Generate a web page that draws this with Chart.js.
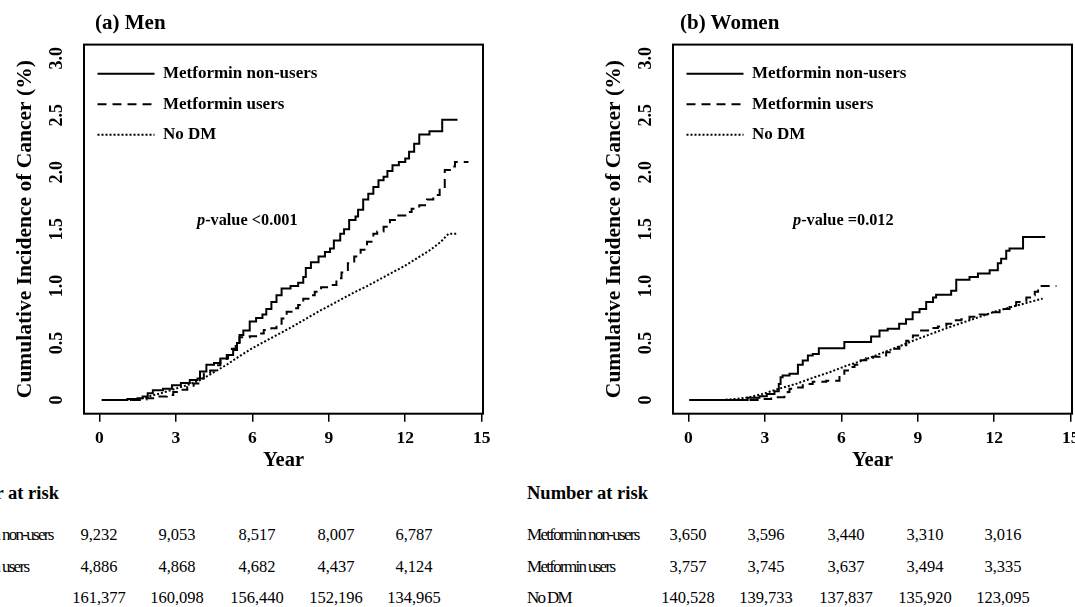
<!DOCTYPE html>
<html>
<head>
<meta charset="utf-8">
<script src="https://cdn.jsdelivr.net/npm/chart.js@4.4.0/dist/chart.umd.min.js"></script>
<style>
    html, body { margin: 0; padding: 0; background: #fff; overflow: hidden; width: 1075px; height: 607px; }
    body { position: relative; font-family: "Liberation Serif", "Times New Roman", serif; color: #000; }
    .panel { position: absolute; top: 0; width: 520px; height: 480px; }
    .panel-title { position: absolute; top: 12px; font-size: 21px; line-height: 21px; font-weight: bold; white-space: nowrap; }
    .pvalue { position: absolute; top: 212px; font-size: 16.3px; line-height: 16px; font-weight: bold; white-space: nowrap; }
    .risk-head { position: absolute; top: 482px; font-size: 18.5px; line-height: 22px; font-weight: bold; white-space: nowrap; }
    .risk-label { position: absolute; font-size: 17px; line-height: 20px; letter-spacing: -1.7px; white-space: nowrap; }
    .risk-cell { position: absolute; width: 80px; margin-left: -40px; text-align: center; font-size: 16.5px; line-height: 20px; }
</style>
</head>
<body>
<div class="panel" style="left:0px"><canvas id="menChart" width="520" height="480"></canvas></div>
<div class="panel" style="left:589px"><canvas id="womenChart" width="520" height="480"></canvas></div>

<div class="panel-title" style="left:95px">(a) Men</div>
<div class="panel-title" style="left:680px">(b) Women</div>
<div class="pvalue" style="left:197px"><i>p</i>-value &lt;0.001</div>
<div class="pvalue" style="left:793px"><i>p</i>-value =0.012</div>

<div id="riskTables"></div>

<script>
// axis ticks
const yearTicks = [0, 3, 6, 9, 12, 15];
const incidenceTicks = [0, 0.5, 1, 1.5, 2, 2.5, 3];
const seriesNames = ["Metformin non-users", "Metformin users", "No DM"];

// (a) Men - cumulative incidence (%)
const menNonUsersYears = [0.1, 1.1, 1.5, 1.7, 1.9, 2.1, 2.5, 2.85, 3.2, 3.55, 3.85, 3.95, 4.2, 4.5, 4.75, 5.05, 5.25, 5.4, 5.5, 5.65, 5.9, 6.15, 6.4, 6.55, 6.75, 6.95, 7.15, 7.5, 7.8, 8.0, 8.1, 8.3, 8.6, 8.85, 9.05, 9.2, 9.45, 9.6, 9.8, 10.05, 10.15, 10.35, 10.55, 10.75, 10.95, 11.15, 11.3, 11.5, 11.75, 12.0, 12.15, 12.35, 12.55, 12.95, 13.45, 14.05];
const menNonUsersPct = [0, 0.01, 0.015, 0.03, 0.06, 0.085, 0.1, 0.13, 0.15, 0.175, 0.19, 0.25, 0.31, 0.325, 0.365, 0.395, 0.44, 0.5, 0.57, 0.61, 0.69, 0.72, 0.75, 0.8, 0.86, 0.92, 0.98, 1.0, 1.03, 1.08, 1.16, 1.21, 1.26, 1.3, 1.33, 1.4, 1.46, 1.5, 1.58, 1.61, 1.67, 1.76, 1.81, 1.87, 1.93, 1.96, 2.01, 2.06, 2.09, 2.12, 2.18, 2.25, 2.33, 2.36, 2.46, 2.46];

const menUsersYears = [0.1, 1.7, 1.85, 2.25, 2.65, 2.9, 3.2, 3.45, 3.7, 3.95, 4.1, 4.35, 4.55, 4.75, 5.0, 5.2, 5.35, 5.5, 5.9, 6.15, 6.45, 6.75, 6.95, 7.15, 7.35, 7.6, 7.8, 8.0, 8.25, 8.45, 8.7, 9.0, 9.3, 9.5, 9.75, 10.0, 10.25, 10.5, 10.75, 10.9, 11.15, 11.4, 11.65, 12.05, 12.25, 12.55, 12.85, 13.1, 13.35, 13.55, 13.75, 13.95, 14.48];
const menUsersPct = [0, 0.005, 0.015, 0.03, 0.045, 0.07, 0.09, 0.115, 0.145, 0.19, 0.23, 0.26, 0.305, 0.35, 0.395, 0.45, 0.51, 0.55, 0.56, 0.585, 0.615, 0.63, 0.67, 0.715, 0.775, 0.805, 0.835, 0.89, 0.92, 0.95, 0.99, 1.01, 1.07, 1.12, 1.2, 1.26, 1.32, 1.39, 1.46, 1.48, 1.52, 1.58, 1.62, 1.65, 1.68, 1.71, 1.76, 1.8, 1.86, 2.02, 2.05, 2.09, 2.09];

const menNoDmYears = [0.1, 1.3, 1.6, 2.0, 2.5, 3.0, 3.5, 4.0, 4.5, 5.0, 5.5, 6.0, 6.5, 7.0, 7.5, 8.0, 8.5, 9.0, 9.5, 10.0, 10.5, 11.0, 11.5, 12.0, 12.5, 13.0, 13.4, 13.7, 14.0];
const menNoDmPct = [0, 0, 0.01, 0.035, 0.065, 0.1, 0.135, 0.18, 0.245, 0.31, 0.385, 0.455, 0.515, 0.575, 0.635, 0.7, 0.765, 0.825, 0.885, 0.945, 1.0, 1.06, 1.12, 1.18, 1.25, 1.32, 1.39, 1.46, 1.46];

// (b) Women
const womenNonUsersYears = [0.05, 2.33, 2.79, 3.08, 3.38, 3.55, 3.62, 3.7, 3.97, 4.3, 4.49, 4.69, 4.88, 5.12, 6.12, 7.17, 7.5, 7.82, 8.27, 8.54, 8.8, 9.07, 9.33, 9.6, 9.72, 10.31, 10.51, 11.03, 11.36, 11.82, 12.14, 12.27, 12.47, 12.6, 13.13, 14.0];
const womenNonUsersPct = [0, 0.02, 0.034, 0.054, 0.078, 0.14, 0.2, 0.215, 0.23, 0.31, 0.347, 0.39, 0.405, 0.455, 0.51, 0.557, 0.61, 0.625, 0.67, 0.71, 0.77, 0.8, 0.86, 0.9, 0.925, 0.96, 1.055, 1.08, 1.11, 1.14, 1.2, 1.24, 1.31, 1.33, 1.43, 1.43];

const womenUsersYears = [0.05, 2.72, 3.25, 3.77, 3.9, 3.97, 4.16, 4.49, 4.88, 5.41, 5.93, 6.12, 6.32, 6.52, 6.71, 6.98, 7.24, 7.5, 7.76, 8.02, 8.28, 8.55, 8.81, 9.13, 9.46, 9.79, 10.12, 10.38, 10.71, 11.03, 11.43, 11.82, 12.21, 12.6, 12.86, 13.26, 13.45, 13.59, 13.72, 14.44];
const womenUsersPct = [0, 0.008, 0.025, 0.04, 0.07, 0.1, 0.11, 0.14, 0.16, 0.17, 0.215, 0.26, 0.29, 0.31, 0.35, 0.37, 0.38, 0.39, 0.42, 0.45, 0.48, 0.52, 0.566, 0.61, 0.633, 0.645, 0.67, 0.7, 0.71, 0.73, 0.75, 0.77, 0.8, 0.83, 0.86, 0.9, 0.92, 0.95, 1.0, 1.0];

const womenNoDmYears = [0.05, 1.35, 1.87, 2.4, 2.92, 3.57, 4.23, 4.88, 5.54, 6.19, 6.85, 7.5, 8.15, 8.81, 9.46, 10.12, 10.77, 11.43, 12.08, 12.73, 13.39, 13.9];
const womenNoDmPct = [0, 0, 0.01, 0.025, 0.054, 0.1, 0.142, 0.195, 0.244, 0.3, 0.347, 0.405, 0.46, 0.52, 0.575, 0.63, 0.68, 0.73, 0.78, 0.82, 0.86, 0.89];

// Number at risk (years 0, 3, 6, 9, 12)
const menRiskNonUsers = [9232, 9053, 8517, 8007, 6787];
const menRiskUsers = [4886, 4868, 4682, 4437, 4124];
const menRiskNoDm = [161377, 160098, 156440, 152196, 134965];
const womenRiskNonUsers = [3650, 3596, 3440, 3310, 3016];
const womenRiskUsers = [3757, 3745, 3637, 3494, 3335];
const womenRiskNoDm = [140528, 139733, 137837, 135920, 123095];

const serif = '"Liberation Serif", "Times New Roman", serif';
Chart.defaults.font.family = serif;
Chart.defaults.color = "#000";

function toPoints(years, pct) {
    return years.map((t, i) => ({ x: t, y: pct[i] }));
}

// black frame round the plot area
const frameBox = {
    id: "frameBox",
    afterDraw(chart) {
        const { ctx, chartArea } = chart;
        ctx.save();
        ctx.strokeStyle = "#000";
        ctx.lineWidth = 2;
        ctx.strokeRect(chartArea.left, chartArea.top, chartArea.right - chartArea.left, chartArea.bottom - chartArea.top);
        ctx.restore();
    }
};

function makeChart(canvasId, nonUsers, users, noDm) {
    const ctx = document.getElementById(canvasId).getContext("2d");
    return new Chart(ctx, {
        type: "line",
        data: {
            datasets: [{
                label: seriesNames[0],
                data: nonUsers,
                borderColor: "#000",
                backgroundColor: "transparent",
                borderWidth: 2,
                stepped: true,
                pointRadius: 0
            }, {
                label: seriesNames[1],
                data: users,
                borderColor: "#000",
                backgroundColor: "transparent",
                borderWidth: 2,
                borderDash: [9, 6],
                stepped: true,
                pointRadius: 0
            }, {
                label: seriesNames[2],
                data: noDm,
                borderColor: "#000",
                backgroundColor: "transparent",
                borderWidth: 2,
                borderDash: [2, 2],
                pointRadius: 0
            }]
        },
        options: {
            responsive: false,
            animation: false,
            events: [],
            layout: { padding: { top: 44.6, right: 37, bottom: 0, left: 0 } },
            scales: {
                x: {
                    type: "linear",
                    min: -0.6,
                    max: 15.05,
                    afterBuildTicks: scale => { scale.ticks = yearTicks.map(v => ({ value: v })); },
                    afterFit: scale => { scale.height = 66.3; },
                    border: { display: false },
                    grid: { display: true, drawOnChartArea: false, drawTicks: true, tickLength: 8, color: "#000", lineWidth: 1.5 },
                    ticks: { color: "#000", autoSkip: false, maxRotation: 0, padding: 6, font: { size: 17.5, weight: "bold" } },
                    title: { display: true, text: "Year", color: "#000", font: { size: 20.5, weight: "bold" }, padding: { top: 0, bottom: 7.4 } }
                },
                y: {
                    min: -0.12,
                    max: 3.12,
                    afterBuildTicks: scale => { scale.ticks = incidenceTicks.map(v => ({ value: v })); },
                    afterFit: scale => { scale.width = 84; },
                    border: { display: false },
                    grid: { display: false, drawTicks: false },
                    ticks: {
                        color: "#000",
                        autoSkip: false,
                        minRotation: 90,
                        maxRotation: 90,
                        crossAlign: "center",
                        padding: 15,
                        font: { size: 18, weight: "bold" },
                        callback: v => v === 0 ? "0" : v.toFixed(1)
                    },
                    title: { display: true, text: "Cumulative Incidence of Cancer (%)", color: "#000", font: { size: 21.5, weight: "bold" }, padding: { top: 12.6, bottom: 0 } }
                }
            },
            plugins: {
                tooltip: { enabled: false },
                legend: {
                    position: "chartArea",
                    align: "start",
                    // empty title only pushes the entries down inside the frame
                    title: { display: true, text: "", font: { size: 6 }, padding: { top: 44.6, bottom: 0 } },
                    labels: {
                        boxWidth: 57,
                        boxHeight: 0,
                        color: "#000",
                        padding: 13.5,
                        font: { size: 17, weight: "bold" }
                    }
                }
            }
        },
        plugins: [frameBox]
    });
}

makeChart("menChart",
    toPoints(menNonUsersYears, menNonUsersPct),
    toPoints(menUsersYears, menUsersPct),
    toPoints(menNoDmYears, menNoDmPct));

makeChart("womenChart",
    toPoints(womenNonUsersYears, womenNonUsersPct),
    toPoints(womenUsersYears, womenUsersPct),
    toPoints(womenNoDmYears, womenNoDmPct));

// Number at risk tables under each panel
const riskColumnX = [99, 177, 257, 336, 414];
const riskRowY = [525, 557, 588];

function buildRiskTable(panelLeft, labelShift, rows) {
    let html = `<div class="risk-head" style="left:${panelLeft - 62}px">Number at risk</div>`;
    rows.forEach((row, r) => {
        html += `<div class="risk-label" style="left:${panelLeft + labelShift}px;top:${riskRowY[r]}px">${seriesNames[r]}</div>`;
        row.forEach((n, c) => {
            html += `<div class="risk-cell" style="left:${panelLeft + riskColumnX[c]}px;top:${riskRowY[r]}px">${n.toLocaleString("en-US")}</div>`;
        });
    });
    return html;
}

document.getElementById("riskTables").innerHTML =
    buildRiskTable(0, -59, [menRiskNonUsers, menRiskUsers, menRiskNoDm]) +
    buildRiskTable(589, -62, [womenRiskNonUsers, womenRiskUsers, womenRiskNoDm]);
</script>
</body>
</html>
